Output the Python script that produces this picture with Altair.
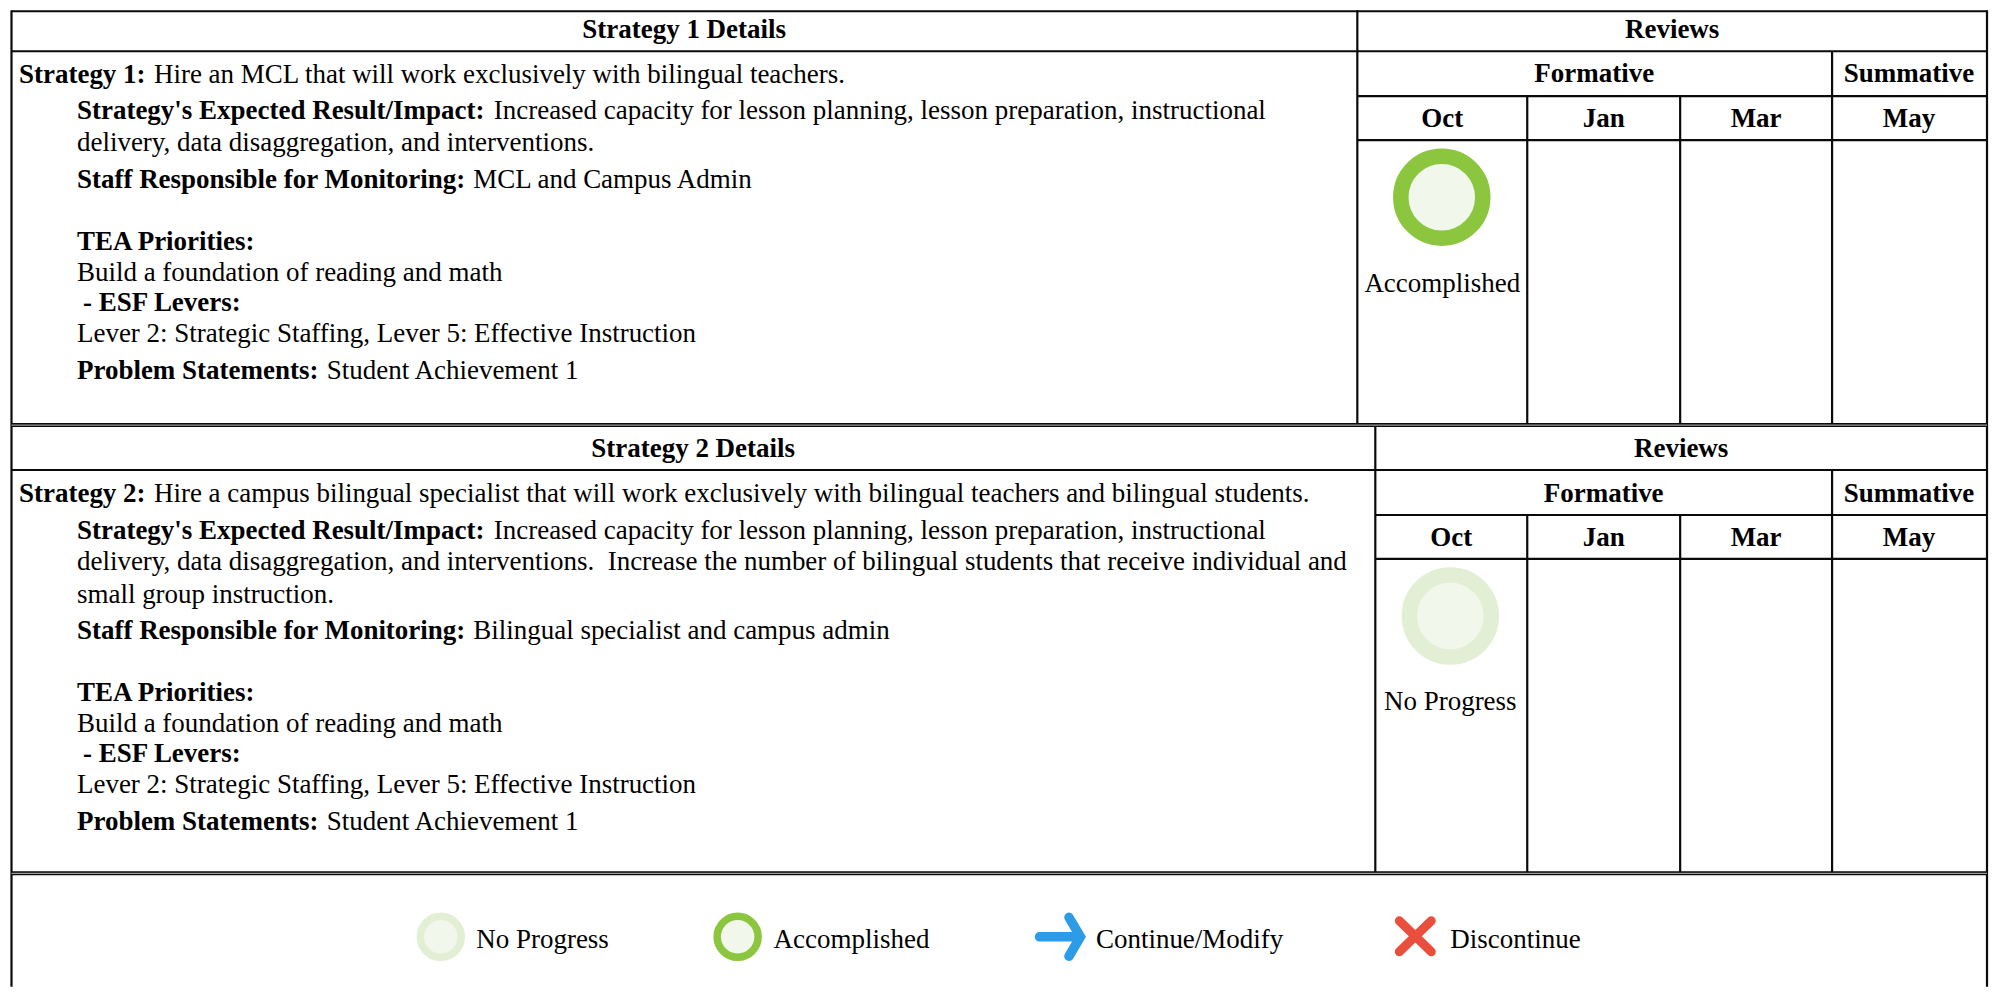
import altair as alt
import pandas as pd

# ---------- text content ----------
FONT = "Liberation Serif"
SIZE = 27

# (text, x, baseline y)
bold_center = [
    ("Strategy 1 Details", 684.5, 36), ("Reviews", 1673, 36),
    ("Formative", 1595, 80), ("Summative", 1910, 80),
    ("Oct", 1443, 125), ("Jan", 1604.5, 125), ("Mar", 1757, 125), ("May", 1910, 125),
    ("Strategy 2 Details", 693.5, 455), ("Reviews", 1682, 455),
    ("Formative", 1604.5, 500), ("Summative", 1910, 500),
    ("Oct", 1452, 544), ("Jan", 1604.5, 544), ("Mar", 1757, 544), ("May", 1910, 544),
]
regular_center = [("Accomplished", 1443, 290), ("No Progress", 1451, 708)]
bold_left = [
    ("Strategy 1:", 19, 81), ("Strategy's Expected Result/Impact:", 77, 117),
    ("Staff Responsible for Monitoring:", 77, 186), ("TEA Priorities:", 77, 248),
    ("- ESF Levers:", 83, 309), ("Problem Statements:", 77, 377),
    ("Strategy 2:", 19, 500), ("Strategy's Expected Result/Impact:", 77, 537),
    ("Staff Responsible for Monitoring:", 77, 637), ("TEA Priorities:", 77, 699),
    ("- ESF Levers:", 83, 760), ("Problem Statements:", 77, 828),
]
regular_left = [
    ("Hire an MCL that will work exclusively with bilingual teachers.", 154, 81),
    ("Increased capacity for lesson planning, lesson preparation, instructional", 494, 117),
    ("delivery, data disaggregation, and interventions.", 77, 149),
    ("MCL and Campus Admin", 473.5, 186),
    ("Build a foundation of reading and math", 77, 279),
    ("Lever 2: Strategic Staffing, Lever 5: Effective Instruction", 77, 340),
    ("Student Achievement 1", 327, 377),
    ("Hire a campus bilingual specialist that will work exclusively with bilingual teachers and bilingual students.", 154, 500),
    ("Increased capacity for lesson planning, lesson preparation, instructional", 494, 537),
    ("delivery, data disaggregation, and interventions.\u00a0 Increase the number of bilingual students that receive individual and", 77, 568),
    ("small group instruction.", 77, 601),
    ("Bilingual specialist and campus admin", 473.5, 637),
    ("Build a foundation of reading and math", 77, 730),
    ("Lever 2: Strategic Staffing, Lever 5: Effective Instruction", 77, 791),
    ("Student Achievement 1", 327, 828),
    ("No Progress", 476.5, 946), ("Accomplished", 774, 946),
    ("Continue/Modify", 1096.5, 946), ("Discontinue", 1451, 946),
]

# ---------- table grid ----------
LEFT, RIGHT, TOP, BOTTOM = 11.5, 1988, 9, 985
h_thin = [
    (LEFT, RIGHT, TOP), (LEFT, RIGHT, 49), (1358, RIGHT, 94), (1358, RIGHT, 138),
    (LEFT, RIGHT, 468), (1376, RIGHT, 513), (1376, RIGHT, 557),
]
h_double = [(LEFT, RIGHT, 423), (LEFT, RIGHT, 871.5)]
v_thin = [
    (LEFT, 8, BOTTOM), (RIGHT, 8, BOTTOM),
    (1358, 8, 423), (1528, 94, 423), (1681, 94, 423), (1833, 49, 423),
    (1376, 423, 872), (1528, 513, 872), (1681, 513, 872), (1833, 468, 872),
]

# ---------- status glyphs ----------
RING_GREEN, RING_PALE, DISC_FILL = "#8CC63F", "#E2EFD4", "#F1F7EA"
# x, y, diameter through the stroke's centre, stroke width, stroke colour
rings = [
    (1442.5, 195, 82, 15.5, RING_GREEN), (1451, 614, 82, 15.5, RING_PALE),
    (441, 935, 41, 7.5, RING_PALE), (738, 935, 41, 7.5, RING_GREEN),
]
ARROW = "M-0.84,0L0.8,0M0.34,-0.78L0.8,0L0.34,0.78"
CROSS = "M-0.64,-0.62L0.64,0.62M0.64,-0.62L-0.64,0.62"

W, H = 1981, 977
x_s = alt.Scale(domain=[8, 8 + W], range=[0, W], nice=False, zero=False)
y_s = alt.Scale(domain=[8, 8 + H], range=[0, H], nice=False, zero=False)
X = alt.X("x:Q", scale=x_s, axis=None)
Y = alt.Y("y:Q", scale=y_s, axis=None)


def text_layer(rows, bold, align):
    df = pd.DataFrame(rows, columns=["t", "x", "y"])
    return alt.Chart(df).mark_text(
        font=FONT, fontSize=SIZE, align=align, baseline="alphabetic",
        fontWeight="bold" if bold else "normal", color="#000000",
    ).encode(x=X, y=Y, text="t:N")


def h_layer(rows, width, color):
    df = pd.DataFrame(rows, columns=["x", "x2", "y"])
    return alt.Chart(df).mark_rule(color=color, strokeWidth=width).encode(x=X, x2="x2:Q", y=Y)


def v_layer(rows, width, color):
    df = pd.DataFrame(rows, columns=["x", "y", "y2"])
    return alt.Chart(df).mark_rule(color=color, strokeWidth=width).encode(x=X, y=Y, y2="y2:Q")


def ring_layer():
    df = pd.DataFrame(rings, columns=["x", "y", "d", "sw", "c"])
    df["area"] = df["d"] ** 2
    return alt.Chart(df).mark_point(filled=True, shape="circle", fill=DISC_FILL, opacity=1).encode(
        x=X, y=Y,
        size=alt.Size("area:Q", scale=None, legend=None),
        stroke=alt.Stroke("c:N", scale=None, legend=None),
        strokeWidth=alt.StrokeWidth("sw:Q", scale=None, legend=None),
    )


def icon_layer(x, y, path, color, width):
    df = pd.DataFrame({"x": [x], "y": [y]})
    return alt.Chart(df).mark_point(
        shape=path, size=2500, filled=False, stroke=color, strokeWidth=width,
        strokeCap="round", strokeJoin="miter", opacity=1,
    ).encode(x=X, y=Y)


chart = alt.layer(
    h_layer(h_thin, 2.2, "#0a0a0a"),
    v_layer(v_thin, 2.2, "#0a0a0a"),
    h_layer(h_double, 4, "#0a0a0a"),
    h_layer(h_double, 1.2, "#999999"),
    ring_layer(),
    icon_layer(1061, 935, ARROW, "#2C9CE8", 9.5),
    icon_layer(1416, 934.5, CROSS, "#EA4E3D", 9),
    text_layer(bold_center, True, "center"),
    text_layer(bold_left, True, "left"),
    text_layer(regular_center, False, "center"),
    text_layer(regular_left, False, "left"),
).properties(width=W, height=H, padding=0, background="#ffffff").configure_view(stroke=None)

chart.save("out.html", embed_options={"renderer": "svg", "actions": False})
